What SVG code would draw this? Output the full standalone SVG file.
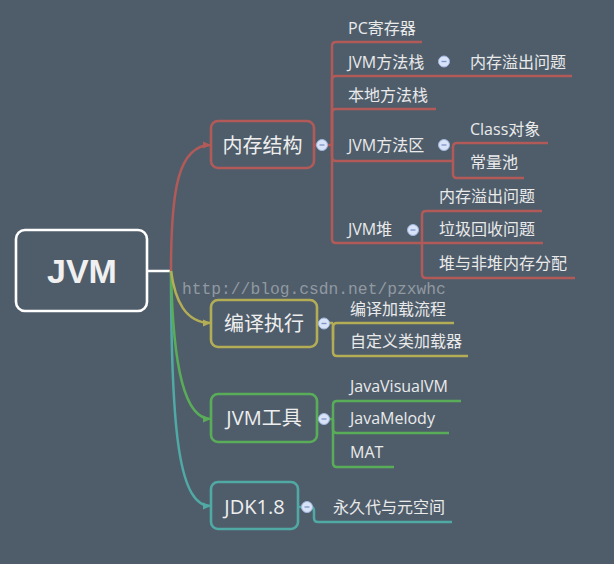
<svg xmlns="http://www.w3.org/2000/svg" width="614" height="564" viewBox="0 0 614 564">
<defs>
<style>
.bg{fill:#4f5d6b}
.box{fill:none;stroke-width:2.6}
.t1{font-family:"Open Sans","Noto Sans CJK SC",sans-serif;font-size:20px;fill:#eeeeee;text-anchor:middle}
.t2{font-family:"Open Sans","Noto Sans CJK SC",sans-serif;font-size:16px;fill:#eaeaea}
.ln{fill:none;stroke-width:2.5;stroke-linecap:butt}
.red{stroke:#b15a58}
.yel{stroke:#b3ad55}
.grn{stroke:#5aad58}
.tea{stroke:#50a9a4}
.col circle{fill:#d8e3f8;stroke:#a3b7de;stroke-width:1}
.col line{stroke:#7d93c3;stroke-width:1.3}
.wm{font-family:"Liberation Mono",monospace;font-size:16.3px;fill:#a3a9b0;fill-opacity:0.8}
</style>
<marker id="ar" viewBox="0 0 8 8" refX="8" refY="4" markerWidth="8" markerHeight="8" markerUnits="userSpaceOnUse" orient="auto"><path d="M0,0.5 L8,4 L0,7.5 Z" fill="#b15a58"/></marker>
<marker id="ay" viewBox="0 0 8 8" refX="8" refY="4" markerWidth="8" markerHeight="8" markerUnits="userSpaceOnUse" orient="auto"><path d="M0,0.5 L8,4 L0,7.5 Z" fill="#b3ad55"/></marker>
<marker id="ag" viewBox="0 0 8 8" refX="8" refY="4" markerWidth="8" markerHeight="8" markerUnits="userSpaceOnUse" orient="auto"><path d="M0,0.5 L8,4 L0,7.5 Z" fill="#5aad58"/></marker>
<marker id="at" viewBox="0 0 8 8" refX="8" refY="4" markerWidth="8" markerHeight="8" markerUnits="userSpaceOnUse" orient="auto"><path d="M0,0.5 L8,4 L0,7.5 Z" fill="#50a9a4"/></marker>
</defs>
<rect class="bg" x="0" y="0" width="614" height="564"/>

<g id="connectors">
  <line x1="147" y1="271" x2="171" y2="271" stroke="#ffffff" stroke-width="2.5"/>
  <path class="ln red" d="M171,271 C171,190 178,145 211,145" marker-end="url(#ar)"/>
  <path class="ln tea" d="M171,271 C171,440 180,506 211,506" marker-end="url(#at)"/>
  <path class="ln grn" d="M171,271 C173,370 185,419 211,419" marker-end="url(#ag)"/>
  <path class="ln yel" d="M171,271 C175,300 185,323 211,323" marker-end="url(#ay)"/>

  <!-- 内存结构 children -->
  <path class="ln red" d="M314,145 H332"/>
  <path class="ln red" d="M332,145 V46 Q332,42 336,42 H422"/>
  <path class="ln red" d="M332,145 V80 Q332,76 336,76 H572"/>
  <path class="ln red" d="M332,145 V113 Q332,109 336,109 H436"/>
  <path class="ln red" d="M332,145 V157 Q332,161 336,161 H453"/>
  <path class="ln red" d="M332,145 V239 Q332,243 336,243 H422"/>
  <!-- JVM方法区 children -->
  <path class="ln red" d="M453,161 V147 Q453,143 457,143 H548"/>
  <path class="ln red" d="M453,161 V174 Q453,178 457,178 H524"/>
  <!-- JVM堆 children -->
  <path class="ln red" d="M422,243 V215 Q422,211 426,211 H542"/>
  <path class="ln red" d="M422,243 H543"/>
  <path class="ln red" d="M422,243 V274 Q422,278 426,278 H575"/>

  <!-- 编译执行 children -->
  <path class="ln yel" d="M317,323 H333"/>
  <path class="ln yel" d="M333,340 V327 Q333,323 337,323 H454"/>
  <path class="ln yel" d="M333,323 V352 Q333,356 337,356 H468"/>

  <!-- JVM工具 children -->
  <path class="ln grn" d="M317,419 H333"/>
  <path class="ln grn" d="M333,419 V405 Q333,401 337,401 H461"/>
  <path class="ln grn" d="M333,419 V429 Q333,433 337,433 H449"/>
  <path class="ln grn" d="M333,419 V463 Q333,467 337,467 H394"/>

  <!-- JDK1.8 child -->
  <path class="ln tea" d="M298,507 H311 Q314,507 314,511 V518 Q314,522 318,522 H452"/>
</g>

<text class="wm" x="182" y="294">http://blog.csdn.net/pzxwhc</text>

<g id="root">
  <rect x="16" y="230" width="131" height="81" rx="9" fill="none" stroke="#ffffff" stroke-width="2.6"/>
  <text x="82" y="283" font-family="'Liberation Sans',Arial,sans-serif" font-size="34" font-weight="bold" fill="#f0f0f0" text-anchor="middle">JVM</text>
</g>

<g id="n-memory">
  <rect class="box red" x="211" y="121" width="103" height="47" rx="7"/>
  <text class="t1" x="262.5" y="152.5">内存结构</text>
  <g class="col"><circle cx="322" cy="145" r="5.5"/><line x1="319.5" y1="145" x2="324.5" y2="145"/></g>
</g>
<g id="n-pc"><text class="t2" x="348" y="33.5">PC寄存器</text></g>
<g id="n-jvmstack">
  <text class="t2" x="348" y="67.5">JVM方法栈</text>
  <g class="col"><circle cx="444" cy="61.5" r="5.5"/><line x1="441.5" y1="61.5" x2="446.5" y2="61.5"/></g>
</g>
<g id="n-stack-oom"><text class="t2" x="470" y="67.5">内存溢出问题</text></g>
<g id="n-native"><text class="t2" x="348" y="101">本地方法栈</text></g>
<g id="n-method">
  <text class="t2" x="348" y="151">JVM方法区</text>
  <g class="col"><circle cx="444" cy="145" r="5.5"/><line x1="441.5" y1="145" x2="446.5" y2="145"/></g>
</g>
<g id="n-class"><text class="t2" x="470" y="134.5">Class对象</text></g>
<g id="n-const"><text class="t2" x="470" y="167.5">常量池</text></g>
<g id="n-heap">
  <text class="t2" x="348" y="235">JVM堆</text>
  <g class="col"><circle cx="413" cy="230" r="5.5"/><line x1="410.5" y1="230" x2="415.5" y2="230"/></g>
</g>
<g id="n-heap-oom"><text class="t2" x="439" y="201.5">内存溢出问题</text></g>
<g id="n-gc"><text class="t2" x="439" y="234.5">垃圾回收问题</text></g>
<g id="n-alloc"><text class="t2" x="439" y="268.5">堆与非堆内存分配</text></g>

<g id="n-compile">
  <rect class="box yel" x="211" y="300" width="106" height="47" rx="7"/>
  <text class="t1" x="264" y="331">编译执行</text>
  <g class="col"><circle cx="324" cy="323.5" r="5.5"/><line x1="321.5" y1="323.5" x2="326.5" y2="323.5"/></g>
</g>
<g id="n-load"><text class="t2" x="350" y="314.5">编译加载流程</text></g>
<g id="n-loader"><text class="t2" x="350" y="346.5">自定义类加载器</text></g>

<g id="n-tools">
  <rect class="box grn" x="211" y="394" width="106" height="48" rx="7"/>
  <text class="t1" x="264" y="425">JVM工具</text>
  <g class="col"><circle cx="324" cy="419" r="5.5"/><line x1="321.5" y1="419" x2="326.5" y2="419"/></g>
</g>
<g id="n-visualvm"><text class="t2" x="350" y="391.5">JavaVisualVM</text></g>
<g id="n-melody"><text class="t2" x="350" y="424">JavaMelody</text></g>
<g id="n-mat"><text class="t2" x="350" y="458">MAT</text></g>

<g id="n-jdk">
  <rect class="box tea" x="211" y="482" width="87" height="47" rx="7"/>
  <text class="t1" x="254.5" y="513.5">JDK1.8</text>
  <g class="col"><circle cx="307" cy="507" r="5.5"/><line x1="304.5" y1="507" x2="309.5" y2="507"/></g>
</g>
<g id="n-meta"><text class="t2" x="333" y="513">永久代与元空间</text></g>
</svg>
